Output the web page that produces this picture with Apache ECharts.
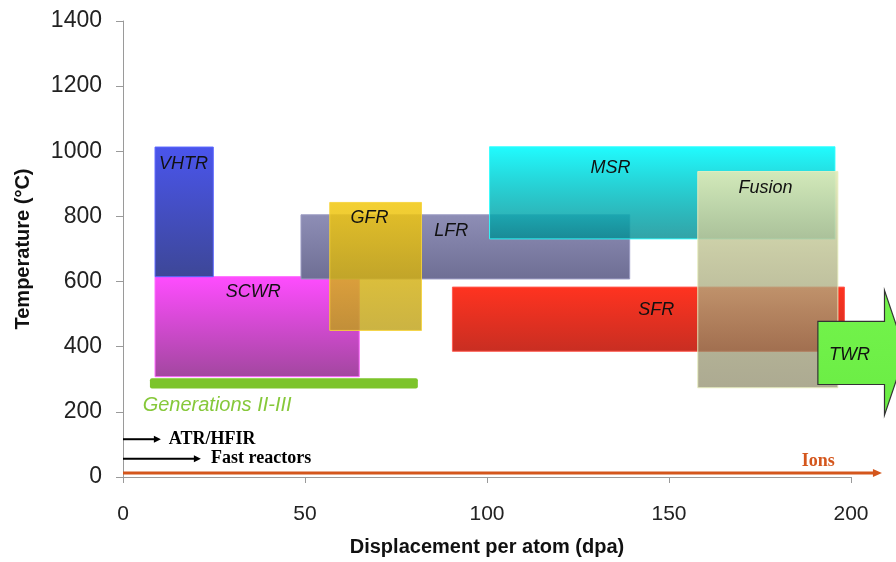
<!DOCTYPE html>
<html>
<head>
<meta charset="utf-8">
<script src="https://cdn.jsdelivr.net/npm/echarts@6/dist/echarts.min.js"></script>
<style>html,body{margin:0;padding:0;background:#fff}#c{width:896px;height:562px}</style>
</head>
<body>
<div id="c"></div>
<script>
// ---- data ----
const reactorNames = ['SCWR', 'VHTR', 'LFR', 'MSR', 'GFR', 'SFR', 'Fusion'];
const dpaLow   = [8.8, 8.8, 48.9, 100.7, 56.8, 90.5, 157.9];
const dpaHigh  = [64.9, 24.8, 139.2, 195.6, 82.0, 198.2, 196.4];
const tempLow  = [308, 615, 608, 731, 450, 386, 274];
const tempHigh = [615, 1013, 805, 1014, 843, 583, 938];
const labelDpa  = [35.8, 16.6, 90.2, 133.9, 67.7, 146.5, 176.5];
const labelTemp = [568, 960, 754, 948, 795, 512, 886];

const genName = 'Generations II-III';
const genDpa = [7.4, 81.0];
const genTemp = [272, 303];
const genLabelDpa = 5.4;
const genLabelTemp = 221;

const twrName = 'TWR';
const twrBodyDpa = [190.9, 209.2];
const twrBodyTemp = [284, 478];
const twrHeadTemp = [190, 573];
const twrTipDpa = 215;
const twrLabelDpa = 199.6;
const twrLabelTemp = 376;

const beamNames = ['ATR/HFIR', 'Fast reactors', 'Ions'];
const beamEndDpa = [10.4, 21.4, 208.5];
const beamTemp = [116, 56, 12];
const beamLabelDpa = [12.6, 24.2, 191];
const beamLabelTemp = [116, 56, 49];

const xTicks = [0, 50, 100, 150, 200];
const yTicks = [0, 200, 400, 600, 800, 1000, 1200, 1400];

// ---- styles ----
const G = echarts.graphic;
function grad(a, b) { return new G.LinearGradient(0, 0, 0, 1, [{offset: 0, color: a}, {offset: 1, color: b}]); }
const boxStyle = {
  SCWR:   {top: '#ff4cff', bottom: '#a2479f', stroke: '#ff66ff'},
  VHTR:   {top: '#4a55ec', bottom: '#3d4797', stroke: '#5a66ff'},
  LFR:    {top: '#8e8eb6', bottom: '#6e6e94', stroke: '#9c9cc4'},
  MSR:    {top: 'rgba(28,252,255,0.98)', bottom: 'rgba(0,140,145,0.8)', stroke: 'rgba(50,255,255,0.9)'},
  GFR:    {top: 'rgba(242,200,16,0.86)', bottom: 'rgba(190,160,20,0.8)', stroke: 'rgba(246,212,60,0.9)'},
  SFR:    {top: '#ff3320', bottom: '#c82e22', stroke: '#ff5a50'},
  Fusion: {top: 'rgba(226,234,182,0.92)', bottom: 'rgba(126,122,84,0.64)', stroke: 'rgba(232,238,192,0.9)'}
};
const SANS = '"Liberation Sans", Arial, sans-serif';
const SERIF = '"Liberation Serif", "Times New Roman", serif';

const chart = echarts.init(document.getElementById('c'), null, {renderer: 'canvas'});

function boxItem(params, api) {
  const i = api.value(0);
  const name = reactorNames[i];
  const st = boxStyle[name];
  const p0 = api.coord([dpaLow[i], tempHigh[i]]);
  const p1 = api.coord([dpaHigh[i], tempLow[i]]);
  const lp = api.coord([labelDpa[i], labelTemp[i]]);
  return {
    type: 'group',
    children: [
      {type: 'rect', shape: {x: p0[0], y: p0[1], width: p1[0] - p0[0], height: p1[1] - p0[1]},
       style: {fill: grad(st.top, st.bottom), stroke: st.stroke, lineWidth: 1}},
      {type: 'text', z2: 10, style: {text: name, x: lp[0], y: lp[1], fill: '#111', font: 'italic 18px ' + SANS, align: 'center', verticalAlign: 'middle'}}
    ]
  };
}

function genItem(params, api) {
  const p0 = api.coord([genDpa[0], genTemp[1]]);
  const p1 = api.coord([genDpa[1], genTemp[0]]);
  const lp = api.coord([genLabelDpa, genLabelTemp]);
  return {
    type: 'group',
    children: [
      {type: 'rect', shape: {x: p0[0], y: p0[1], width: p1[0] - p0[0], height: p1[1] - p0[1], r: 2}, style: {fill: '#7cc42a'}},
      {type: 'text', style: {text: genName, x: lp[0], y: lp[1], fill: '#86c83a', font: 'italic 20px ' + SANS, align: 'left', verticalAlign: 'middle'}}
    ]
  };
}

function twrItem(params, api) {
  const a = api.coord([twrBodyDpa[0], twrBodyTemp[1]]);
  const b = api.coord([twrBodyDpa[1], twrBodyTemp[0]]);
  const ht = api.coord([twrBodyDpa[1], twrHeadTemp[1]]);
  const hb = api.coord([twrBodyDpa[1], twrHeadTemp[0]]);
  const tip = api.coord([twrTipDpa, (twrHeadTemp[0] + twrHeadTemp[1]) / 2]);
  const lp = api.coord([twrLabelDpa, twrLabelTemp]);
  const pts = [[a[0], a[1]], [b[0], a[1]], [b[0], ht[1]], [tip[0], tip[1]], [b[0], hb[1]], [b[0], b[1]], [a[0], b[1]]];
  return {
    type: 'group',
    children: [
      {type: 'polygon', shape: {points: pts}, style: {fill: grad('#74f44c', '#6aec44'), stroke: '#333', lineWidth: 1.2}},
      {type: 'text', style: {text: twrName, x: lp[0], y: lp[1], fill: '#111', font: 'italic 18px ' + SANS, align: 'center', verticalAlign: 'middle'}}
    ]
  };
}

function beamItem(params, api) {
  const i = api.value(0);
  const isIons = beamNames[i] === 'Ions';
  const col = isIons ? '#d4561c' : '#000';
  const s = api.coord([0, beamTemp[i]]);
  const e = api.coord([beamEndDpa[i], beamTemp[i]]);
  const lp = api.coord([beamLabelDpa[i], beamLabelTemp[i]]);
  const lw = isIons ? 3 : 2;
  const hl = isIons ? 9 : 7, hw = isIons ? 4 : 3.5;
  return {
    type: 'group',
    children: [
      {type: 'line', shape: {x1: s[0], y1: s[1], x2: e[0] - hl + 1, y2: e[1]}, style: {stroke: col, lineWidth: lw}},
      {type: 'polygon', shape: {points: [[e[0] - hl, e[1] - hw], [e[0], e[1]], [e[0] - hl, e[1] + hw]]}, style: {fill: col}},
      {type: 'text', style: {text: beamNames[i], x: lp[0], y: lp[1], fill: col, font: 'bold 18px ' + SERIF, align: isIons ? 'center' : 'left', verticalAlign: 'middle'}}
    ]
  };
}

chart.setOption({
  animation: false,
  backgroundColor: '#fff',
  grid: {left: 123, right: 45, top: 21, bottom: 83, containLabel: false},
  xAxis: {
    type: 'value', min: xTicks[0], max: xTicks[xTicks.length - 1], interval: 50,
    name: 'Displacement per atom (dpa)', nameLocation: 'middle', nameGap: 60,
    nameTextStyle: {fontFamily: SANS, fontWeight: 'bold', fontSize: 20, color: '#111'},
    axisLine: {show: true, lineStyle: {color: '#9a9a9a', width: 1}},
    axisTick: {show: true, length: 6, lineStyle: {color: '#9a9a9a'}},
    axisLabel: {fontFamily: SANS, fontSize: 21, color: '#222', margin: 27, formatter: v => String(v)},
    splitLine: {show: false}
  },
  yAxis: {
    type: 'value', min: yTicks[0], max: yTicks[yTicks.length - 1], interval: 200,
    name: 'Temperature (°C)', nameLocation: 'middle', nameGap: 90,
    nameTextStyle: {fontFamily: SANS, fontWeight: 'bold', fontSize: 20, color: '#111'},
    axisLine: {show: true, lineStyle: {color: '#9a9a9a', width: 1}},
    axisTick: {show: true, length: 7, lineStyle: {color: '#9a9a9a'}},
    axisLabel: {fontFamily: SANS, fontSize: 23, color: '#222', margin: 21, formatter: v => String(v)},
    splitLine: {show: false}
  },
  series: [
    {type: 'custom', name: 'reactors', clip: false, renderItem: boxItem, data: reactorNames.map((n, i) => [i]), z: 2},
    {type: 'custom', name: 'gen', clip: false, renderItem: genItem, data: [[0]], z: 3},
    {type: 'custom', name: 'twr', clip: false, renderItem: twrItem, data: [[0]], z: 4},
    {type: 'custom', name: 'beams', clip: false, renderItem: beamItem, data: beamNames.map((n, i) => [i]), z: 5}
  ]
});
</script>
</body>
</html>
